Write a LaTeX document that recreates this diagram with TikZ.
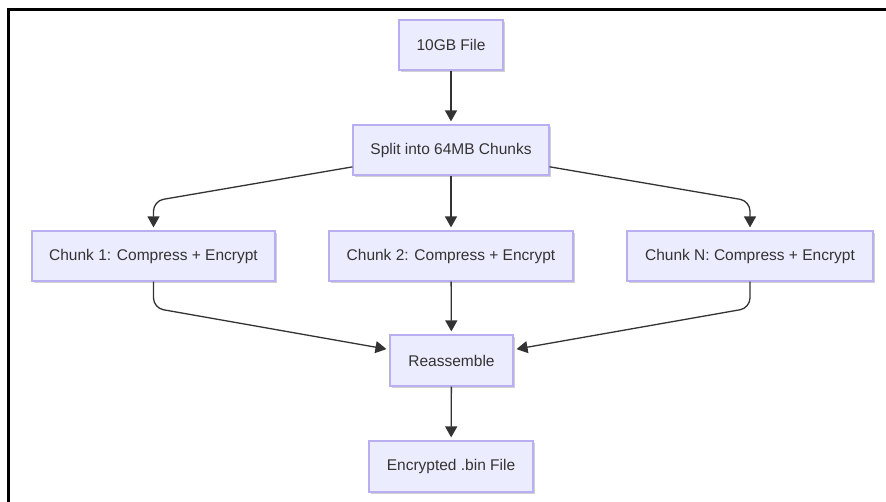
\documentclass[tikz,border=0pt]{standalone}
\usepackage{fontspec}
\setmainfont{Liberation Sans}
\usetikzlibrary{arrows.meta,shadows}
\definecolor{mfill}{HTML}{ECECFF}
\definecolor{mborder}{HTML}{B8AEF0}
\definecolor{mtext}{HTML}{333333}
\definecolor{mline}{HTML}{333333}
\tikzset{
  box/.style={draw=mborder, line width=1.2pt, fill=mfill, text=mtext,
    font=\fontsize{15.5}{18}\selectfont, inner sep=0pt, anchor=center,
    drop shadow={opacity=0.18, shadow xshift=1.5pt, shadow yshift=-2pt, fill=black}},
  arr/.style={draw=mline, line width=1.3pt, -{Triangle[width=12pt,length=11pt]},
    shorten >=3pt, rounded corners=10pt},
}
\begin{document}
\begin{tikzpicture}[x=1pt,y=-1pt]
\useasboundingbox (0,0) rectangle (886,501);
\fill[white] (0,0) rectangle (886,501);
\draw[black, line width=3pt] (8.7,520) -- (8.7,9.3) -- (900,9.3);

\node[box, minimum width=104pt, minimum height=50pt] (file) at (451,45) {10GB File};
\node[box, minimum width=196pt, minimum height=50pt] (split) at (451,150) {Split into 64MB Chunks};
\node[box, minimum width=243pt, minimum height=50pt] (c1) at (153.5,256) {Chunk 1: Compress + Encrypt};
\node[box, minimum width=244pt, minimum height=50pt] (c2) at (451,256) {Chunk 2: Compress + Encrypt};
\node[box, minimum width=246pt, minimum height=50pt] (cn) at (750,256) {Chunk N: Compress + Encrypt};
\node[box, minimum width=123pt, minimum height=51pt] (re) at (451.5,360.5) {Reassemble};
\node[box, minimum width=164pt, minimum height=51pt] (enc) at (451,466.5) {Encrypted .bin File};

\coordinate (k1) at (153.5,201);
\coordinate (kn) at (750,201);
\coordinate (m1) at (153.5,308);
\coordinate (mn) at (750,308);

\draw[arr] (file) -- (split);
\draw[arr] (split) -- (k1) -- (c1);
\draw[arr] (split) -- (c2);
\draw[arr] (split) -- (kn) -- (cn);
\draw[arr] (c1) -- (m1) -- (re);
\draw[arr] (c2) -- (re);
\draw[arr] (cn) -- (mn) -- (re);
\draw[arr] (re) -- (enc);
\end{tikzpicture}
\end{document}
